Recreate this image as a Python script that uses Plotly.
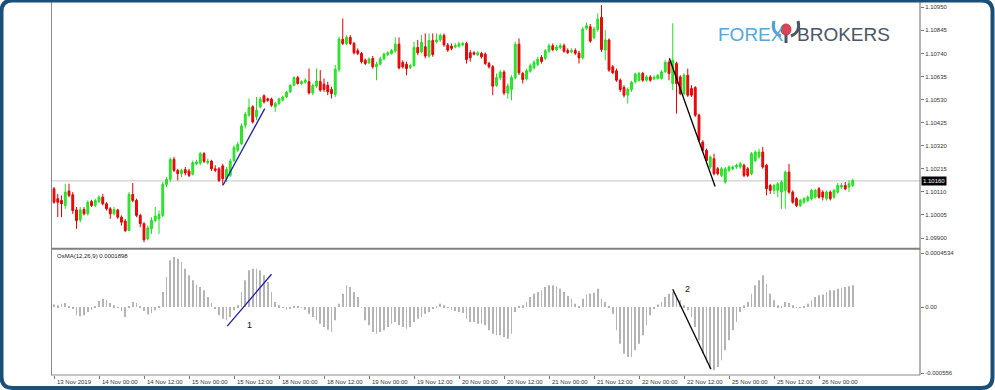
import plotly.graph_objects as go

# ---------------- DATA ----------------
open_ = [1.10124,1.10079,1.10071,1.10048,1.10114,1.10097,1.10028,1.09983,1.10030,1.10010,
1.10066,1.10048,1.10066,1.10086,1.10056,1.10033,1.10010,1.10028,1.09995,1.09977,
1.09934,1.10098,1.10071,1.10003,1.09965,1.09896,1.09942,1.09980,1.09987,1.10003,
1.10144,1.10167,1.10258,1.10208,1.10193,1.10211,1.10205,1.10190,1.10238,1.10241,
1.10284,1.10243,1.10250,1.10215,1.10215,1.10228,1.10170,1.10185,1.10253,1.10299,
1.10329,1.10413,1.10459,1.10497,1.10451,1.10497,1.10547,1.10533,1.10532,1.10497,
1.10512,1.10527,1.10542,1.10565,1.10595,1.10630,1.10603,1.10609,1.10611,1.10560,
1.10591,1.10612,1.10600,1.10595,1.10576,1.10553,1.10667,1.10804,1.10785,1.10813,
1.10785,1.10752,1.10740,1.10709,1.10697,1.10717,1.10679,1.10691,1.10715,1.10734,
1.10740,1.10750,1.10782,1.10699,1.10691,1.10676,1.10685,1.10767,1.10747,1.10770,
1.10728,1.10799,1.10793,1.10801,1.10822,1.10778,1.10772,1.10769,1.10773,1.10779,
1.10785,1.10743,1.10743,1.10734,1.10740,1.10737,1.10694,1.10679,1.10595,1.10629,
1.10655,1.10560,1.10576,1.10629,1.10782,1.10649,1.10624,1.10659,1.10674,1.10690,
1.10722,1.10717,1.10750,1.10775,1.10757,1.10766,1.10775,1.10753,1.10747,1.10753,
1.10741,1.10720,1.10854,1.10861,1.10811,1.10849,1.10904,1.10755,1.10801,1.10679,
1.10661,1.10618,1.10585,1.10550,1.10576,1.10611,1.10618,1.10649,1.10618,1.10633,
1.10624,1.10626,1.10626,1.10656,1.10700,1.10603,1.10694,1.10633,1.10557,1.10641,
1.10580,1.10585,1.10459,1.10337,1.10299,1.10223,1.10261,1.10215,1.10185,1.10155,
1.10208,1.10215,1.10223,1.10223,1.10231,1.10215,1.10193,1.10253,1.10269,1.10291,
1.10231,1.10139,1.10117,1.10117,1.10109,1.10117,1.10200,1.10109,1.10079,1.10048,
1.10063,1.10071,1.10079,1.10086,1.10124,1.10109,1.10079,1.10109,1.10086,1.10109,
1.10132,1.10139,1.10132,1.10139]

high = [1.10132,1.10101,1.10094,1.10147,1.10147,1.10109,1.10041,1.10041,1.10041,1.10071,
1.10074,1.10079,1.10094,1.10101,1.10063,1.10041,1.10041,1.10033,1.10003,1.09987,
1.10109,1.10150,1.10079,1.10010,1.09972,1.09957,1.09995,1.10041,1.10025,1.10155,
1.10177,1.10266,1.10269,1.10215,1.10215,1.10223,1.10215,1.10253,1.10256,1.10291,
1.10291,1.10261,1.10256,1.10231,1.10223,1.10238,1.10223,1.10261,1.10322,1.10337,
1.10421,1.10474,1.10535,1.10504,1.10542,1.10542,1.10554,1.10539,1.10539,1.10519,
1.10539,1.10548,1.10570,1.10600,1.10636,1.10638,1.10618,1.10626,1.10671,1.10603,
1.10671,1.10664,1.10626,1.10611,1.10588,1.10687,1.10816,1.10899,1.10823,1.10823,
1.10793,1.10763,1.10747,1.10717,1.10722,1.10728,1.10702,1.10725,1.10744,1.10750,
1.10760,1.10813,1.10813,1.10709,1.10702,1.10694,1.10793,1.10801,1.10823,1.10831,
1.10831,1.10831,1.10831,1.10831,1.10831,1.10788,1.10785,1.10788,1.10793,1.10793,
1.10793,1.10755,1.10750,1.10750,1.10747,1.10744,1.10702,1.10687,1.10649,1.10664,
1.10664,1.10603,1.10641,1.10793,1.10808,1.10656,1.10671,1.10694,1.10709,1.10725,
1.10732,1.10760,1.10785,1.10785,1.10778,1.10785,1.10785,1.10763,1.10763,1.10763,
1.10752,1.10861,1.10880,1.10874,1.10861,1.10922,1.10960,1.10846,1.10808,1.10687,
1.10671,1.10626,1.10595,1.10585,1.10615,1.10652,1.10656,1.10656,1.10641,1.10641,
1.10640,1.10646,1.10664,1.10709,1.10709,1.10877,1.10702,1.10641,1.10649,1.10671,
1.10595,1.10591,1.10466,1.10345,1.10307,1.10276,1.10284,1.10223,1.10223,1.10223,
1.10231,1.10231,1.10238,1.10246,1.10238,1.10223,1.10291,1.10299,1.10307,1.10314,
1.10238,1.10147,1.10147,1.10155,1.10162,1.10208,1.10238,1.10117,1.10086,1.10079,
1.10086,1.10094,1.10124,1.10124,1.10132,1.10117,1.10117,1.10117,1.10124,1.10150,
1.10150,1.10155,1.10162,1.10170]

low = [1.10056,1.09995,1.09995,1.10033,1.10086,1.10010,1.09942,1.09972,1.10003,1.10003,
1.10041,1.10041,1.10059,1.10048,1.10025,1.09987,1.10003,1.09987,1.09957,1.09927,
1.09931,1.10063,1.09995,1.09949,1.09881,1.09889,1.09919,1.09972,1.09919,1.09995,
1.10132,1.10155,1.10200,1.10162,1.10177,1.10185,1.10177,1.10185,1.10231,1.10231,
1.10241,1.10235,1.10205,1.10200,1.10155,1.10139,1.10155,1.10177,1.10246,1.10291,
1.10322,1.10398,1.10451,1.10421,1.10436,1.10489,1.10512,1.10519,1.10497,1.10474,
1.10504,1.10522,1.10538,1.10560,1.10591,1.10598,1.10595,1.10603,1.10553,1.10550,
1.10583,1.10565,1.10565,1.10550,1.10535,1.10542,1.10656,1.10778,1.10778,1.10778,
1.10735,1.10732,1.10694,1.10687,1.10691,1.10671,1.10618,1.10685,1.10709,1.10728,
1.10735,1.10743,1.10667,1.10671,1.10641,1.10668,1.10679,1.10732,1.10740,1.10717,
1.10720,1.10725,1.10785,1.10793,1.10770,1.10747,1.10755,1.10763,1.10766,1.10773,
1.10694,1.10702,1.10731,1.10728,1.10717,1.10687,1.10671,1.10550,1.10588,1.10618,
1.10550,1.10535,1.10527,1.10621,1.10641,1.10603,1.10618,1.10652,1.10667,1.10682,
1.10694,1.10709,1.10743,1.10750,1.10750,1.10758,1.10743,1.10737,1.10740,1.10732,
1.10694,1.10712,1.10846,1.10788,1.10804,1.10839,1.10747,1.10709,1.10656,1.10646,
1.10611,1.10565,1.10539,1.10512,1.10565,1.10603,1.10611,1.10611,1.10611,1.10611,
1.10618,1.10621,1.10621,1.10652,1.10618,1.10573,1.10466,1.10550,1.10550,1.10542,
1.10542,1.10451,1.10337,1.10291,1.10238,1.10215,1.10185,1.10185,1.10177,1.10147,
1.10200,1.10208,1.10215,1.10215,1.10177,1.10177,1.10185,1.10246,1.10261,1.10215,
1.10094,1.10101,1.10101,1.10086,1.10033,1.10033,1.10101,1.10056,1.10041,1.10041,
1.10056,1.10063,1.10071,1.10079,1.10079,1.10071,1.10071,1.10071,1.10079,1.10101,
1.10124,1.10117,1.10109,1.10132]

close = [1.10063,1.10063,1.10056,1.10109,1.10094,1.10025,1.09980,1.10028,1.10010,1.10063,
1.10048,1.10071,1.10086,1.10056,1.10033,1.10010,1.10030,1.09995,1.09972,1.09934,
1.10098,1.10071,1.10003,1.09965,1.09892,1.09946,1.09980,1.10000,1.10007,1.10144,
1.10167,1.10258,1.10208,1.10193,1.10208,1.10196,1.10185,1.10243,1.10246,1.10284,
1.10249,1.10250,1.10215,1.10208,1.10162,1.10170,1.10212,1.10250,1.10311,1.10326,
1.10410,1.10463,1.10494,1.10428,1.10481,1.10532,1.10519,1.10527,1.10504,1.10512,
1.10533,1.10542,1.10563,1.10594,1.10630,1.10603,1.10611,1.10618,1.10560,1.10594,
1.10615,1.10573,1.10576,1.10565,1.10557,1.10668,1.10805,1.10785,1.10813,1.10785,
1.10743,1.10740,1.10702,1.10694,1.10714,1.10679,1.10691,1.10715,1.10737,1.10743,
1.10753,1.10782,1.10674,1.10679,1.10671,1.10685,1.10767,1.10743,1.10790,1.10728,
1.10799,1.10735,1.10801,1.10822,1.10779,1.10755,1.10763,1.10776,1.10784,1.10785,
1.10712,1.10720,1.10737,1.10743,1.10725,1.10694,1.10679,1.10591,1.10630,1.10655,
1.10560,1.10592,1.10630,1.10782,1.10652,1.10621,1.10661,1.10684,1.10699,1.10714,
1.10703,1.10752,1.10775,1.10757,1.10769,1.10776,1.10750,1.10744,1.10753,1.10741,
1.10720,1.10851,1.10866,1.10796,1.10851,1.10896,1.10758,1.10801,1.10664,1.10652,
1.10618,1.10576,1.10550,1.10577,1.10608,1.10646,1.10649,1.10618,1.10633,1.10618,
1.10632,1.10640,1.10656,1.10700,1.10649,1.10709,1.10603,1.10557,1.10641,1.10550,
1.10550,1.10459,1.10345,1.10299,1.10253,1.10269,1.10193,1.10193,1.10215,1.10215,
1.10223,1.10223,1.10231,1.10238,1.10185,1.10185,1.10284,1.10291,1.10291,1.10223,
1.10124,1.10117,1.10139,1.10147,1.10155,1.10200,1.10109,1.10063,1.10048,1.10071,
1.10079,1.10086,1.10117,1.10117,1.10086,1.10086,1.10109,1.10079,1.10117,1.10139,
1.10139,1.10124,1.10147,1.10162]

osma = [0.000022,0.000014,0.000028,0.000034,0.000008,-0.000014,-0.000070,-0.000078,-0.000070,-0.000042,
-0.000022,0.000008,0.000050,0.000070,0.000062,0.000034,0.000014,-0.000008,-0.000034,-0.000084,
0.000003,0.000042,0.000034,0.000008,-0.000034,-0.000062,-0.000050,-0.000028,0.000008,0.000126,
0.000252,0.000392,0.000420,0.000406,0.000378,0.000322,0.000266,0.000224,0.000190,0.000168,
0.000140,0.000084,0.000034,-0.000014,-0.000070,-0.000098,-0.000112,-0.000084,-0.000028,0.000014,
0.000126,0.000224,0.000308,0.000322,0.000322,0.000308,0.000266,0.000210,0.000126,0.000042,
0.000014,-0.000008,-0.000022,-0.000014,0.000008,0.000006,-0.000006,-0.000022,-0.000056,-0.000084,
-0.000112,-0.000140,-0.000168,-0.000190,-0.000210,-0.000112,0.000028,0.000112,0.000182,0.000168,
0.000126,0.000084,-0.000003,-0.000112,-0.000154,-0.000210,-0.000224,-0.000210,-0.000196,-0.000168,
-0.000140,-0.000126,-0.000154,-0.000168,-0.000182,-0.000168,-0.000126,-0.000098,-0.000084,-0.000056,
-0.000042,-0.000014,0.000008,0.000028,0.000014,-0.000006,-0.000022,-0.000034,-0.000042,-0.000050,
-0.000098,-0.000126,-0.000126,-0.000140,-0.000140,-0.000154,-0.000196,-0.000224,-0.000238,-0.000238,
-0.000252,-0.000266,-0.000224,-0.000042,0.000003,0.000014,0.000042,0.000084,0.000112,0.000126,
0.000140,0.000168,0.000182,0.000182,0.000174,0.000154,0.000126,0.000092,0.000070,0.000028,
0.000008,0.000070,0.000106,0.000112,0.000120,0.000154,0.000070,0.000042,0.000006,-0.000056,
-0.000196,-0.000308,-0.000392,-0.000420,-0.000420,-0.000364,-0.000308,-0.000238,-0.000154,-0.000070,
-0.000014,0.000022,0.000042,0.000084,0.000112,0.000126,0.000098,0.000056,0.000014,-0.000028,
-0.000084,-0.000168,-0.000280,-0.000392,-0.000462,-0.000518,-0.000532,-0.000504,-0.000448,-0.000364,
-0.000280,-0.000196,-0.000126,-0.000042,0.000014,0.000042,0.000112,0.000182,0.000224,0.000266,
0.000196,0.000112,0.000056,0.000014,0.000008,0.000042,0.000034,0.000014,-0.000006,-0.000008,
0.000008,0.000028,0.000056,0.000084,0.000098,0.000106,0.000126,0.000140,0.000140,0.000154,
0.000162,0.000168,0.000174,0.000182]

tick_bars = [0, 12, 24, 36, 48, 60, 72, 84, 96, 108, 120, 132, 144, 156, 168, 180, 192, 204]
tick_labels = ["13 Nov 2019", "14 Nov 00:00", "14 Nov 12:00", "15 Nov 00:00", "15 Nov 12:00",
               "18 Nov 00:00", "18 Nov 12:00", "19 Nov 00:00", "19 Nov 12:00", "20 Nov 00:00",
               "20 Nov 12:00", "21 Nov 00:00", "21 Nov 12:00", "22 Nov 00:00", "22 Nov 12:00",
               "25 Nov 00:00", "25 Nov 12:00", "26 Nov 00:00"]
price_ticks = [1.09900, 1.10005, 1.10110, 1.10215, 1.10320, 1.10425, 1.10530, 1.10635, 1.10740, 1.10845, 1.10950]
osma_ticks = [0.0004534, 0.0, -0.0005563]
osma_tick_labels = ["0.0004534", "0.00", "-0.000556"]
current_price = 1.10160
osma_title = "OsMA(12,26,9) 0.0001898"

# trendline drawings (bar index, value)
line1_price_x = [45.1, 56.2]; line1_price_y = [1.10141, 1.10489]
line1_osma_x = [46.2, 58.0]; line1_osma_y = [-0.000160, 0.000275]
line2_price_x = [164.1, 176.3]; line2_price_y = [1.10718, 1.10134]
line2_osma_x = [165.0, 175.2]; line2_osma_y = [0.000149, -0.000523]
label1 = (52.0, -0.000151, "1")
label2 = (169.0, 0.000150, "2")

bars = list(range(len(close)))

# ---------------- LAYOUT GEOMETRY ----------------
W, H = 995, 390
ML, MR, MT, MB = 51, 75, 0, 15
PW, PH = W - ML - MR, H - MT - MB

def X(px):
    return (px - ML) / PW

def Y(py):
    return 1 - (py - MT) / PH

FONT = "Liberation Sans, Arial, sans-serif"

fig = go.Figure()

fig.add_trace(go.Candlestick(
    x=bars, open=open_, high=high, low=low, close=close,
    xaxis="x", yaxis="y", whiskerwidth=0,
    increasing=dict(line=dict(color="#22dd22", width=1), fillcolor="#33ee33"),
    decreasing=dict(line=dict(color="#e00000", width=1), fillcolor="#ee1010"),
    showlegend=False, hoverinfo="skip"))

fig.add_trace(go.Bar(
    x=bars, y=osma, xaxis="x", yaxis="y2", width=0.22,
    marker=dict(color="#b4b4b4", line=dict(width=0)),
    showlegend=False, hoverinfo="skip"))

fig.add_trace(go.Scatter(x=line1_price_x, y=line1_price_y, xaxis="x", yaxis="y", mode="lines",
                         line=dict(color="#1c1ca8", width=1.3), showlegend=False, hoverinfo="skip"))
fig.add_trace(go.Scatter(x=line1_osma_x, y=line1_osma_y, xaxis="x", yaxis="y2", mode="lines",
                         line=dict(color="#1c1ca8", width=1.3), showlegend=False, hoverinfo="skip"))
fig.add_trace(go.Scatter(x=line2_price_x, y=line2_price_y, xaxis="x", yaxis="y", mode="lines",
                         line=dict(color="#000000", width=1.3), showlegend=False, hoverinfo="skip"))
fig.add_trace(go.Scatter(x=line2_osma_x, y=line2_osma_y, xaxis="x", yaxis="y2", mode="lines",
                         line=dict(color="#000000", width=1.3), showlegend=False, hoverinfo="skip"))

top_dom = [Y(248), 1]
bot_dom = [0, Y(250)]

fig.update_layout(
    width=W, height=H,
    margin=dict(l=ML, r=MR, t=MT, b=MB, pad=0),
    paper_bgcolor="white", plot_bgcolor="white",
    font=dict(family=FONT, size=6, color="#333333"),
    xaxis=dict(domain=[0, 1], anchor="y2", range=[(ML - 54) / 3.75, (ML + PW - 54) / 3.75],
               tickmode="array", tickvals=tick_bars, ticktext=tick_labels,
               ticks="outside", ticklen=3, tickcolor="#777777", tickwidth=1,
               showticklabels=False,
               showgrid=False, zeroline=False, showline=False,
               rangeslider=dict(visible=False), fixedrange=True),
    yaxis=dict(domain=top_dom, anchor="x", side="right",
               range=[1.10983 - 248 * 0.0000455, 1.10983],
               tickmode="array", tickvals=price_ticks, ticktext=[f"{v:.5f}" for v in price_ticks],
               ticks="outside", ticklen=3, tickcolor="#777777",
               tickfont=dict(size=6, color="#333333"),
               showgrid=False, zeroline=False, showline=False, fixedrange=True),
    yaxis2=dict(domain=bot_dom, anchor="x", side="right",
                range=[-0.000571, 0.000479],
                tickmode="array", tickvals=osma_ticks, ticktext=osma_tick_labels,
                ticks="outside", ticklen=3, tickcolor="#777777",
                tickfont=dict(size=6, color="#333333"),
                showgrid=False, zeroline=False, showline=False, fixedrange=True),
    showlegend=False,
)

shapes = []
shapes.append(dict(type="line", xref="paper", yref="y", x0=0, x1=1, y0=current_price, y1=current_price,
                   line=dict(color="#c4c4c4", width=1), layer="below"))
shapes.append(dict(type="line", xref="paper", yref="paper", x0=X(51.5), x1=X(51.5), y0=0, y1=1,
                   line=dict(color="#8a8a8a", width=1)))
shapes.append(dict(type="line", xref="paper", yref="paper", x0=1, x1=1, y0=0, y1=1,
                   line=dict(color="#6a6a6a", width=1)))
shapes.append(dict(type="line", xref="paper", yref="paper", x0=X(51), x1=1, y0=Y(248.8), y1=Y(248.8),
                   line=dict(color="#808080", width=2)))
shapes.append(dict(type="line", xref="paper", yref="paper", x0=X(51), x1=1, y0=0, y1=0,
                   line=dict(color="#8a8a8a", width=1)))

def P(px, py):
    return f"{X(px):.5f},{Y(py):.5f}"

shapes.append(dict(type="path", xref="paper", yref="paper",
                   path=f"M{P(781,36)} Q{P(771,32)} {P(774,21)}",
                   line=dict(color="#4d9fd3", width=3)))
shapes.append(dict(type="path", xref="paper", yref="paper",
                   path=f"M{P(791,36)} Q{P(801,32)} {P(798,21)}",
                   line=dict(color="#4a5566", width=3)))
shapes.append(dict(type="path", xref="paper", yref="paper",
                   path=f"M{P(786,33)} L{P(786,43)}",
                   line=dict(color="#4a5566", width=3)))
shapes.append(dict(type="circle", xref="paper", yref="paper",
                   x0=X(781), x1=X(791), y0=Y(35), y1=Y(24),
                   fillcolor="#e0405a", line=dict(color="#c83048", width=1)))

l, t, r, b, rad = 1.5, 0.5, 992.5, 388.0, 11
frame = (f"M{P(l+rad,t)} L{P(r-rad,t)} Q{P(r,t)} {P(r,t+rad)} L{P(r,b-rad)} "
         f"Q{P(r,b)} {P(r-rad,b)} L{P(l+rad,b)} Q{P(l,b)} {P(l,b-rad)} L{P(l,t+rad)} "
         f"Q{P(l,t)} {P(l+rad,t)} Z")
shapes.append(dict(type="path", xref="paper", yref="paper", path=frame,
                   line=dict(color="#1a4f7a", width=4), layer="above"))

fig.update_layout(shapes=shapes)

ann = []
for tb, tl in zip(tick_bars, tick_labels):
    ann.append(dict(xref="x", yref="paper", x=tb, y=Y(381.5), text=tl, showarrow=False,
                    xanchor="left", yanchor="middle", xshift=0.5,
                    font=dict(size=6, color="#333333", family=FONT)))
ann.append(dict(xref="paper", yref="y", x=1, y=current_price, text=f"{current_price:.5f}",
                showarrow=False, xanchor="left", yanchor="middle", xshift=1,
                bgcolor="#000000", borderpad=1, font=dict(size=6, color="white", family=FONT)))
ann.append(dict(xref="paper", yref="paper", x=X(55), y=Y(255.5), text=osma_title, showarrow=False,
                xanchor="left", yanchor="middle", font=dict(size=6, color="#222222", family=FONT)))
ann.append(dict(xref="x", yref="y2", x=label1[0], y=label1[1], text=label1[2], showarrow=False,
                font=dict(size=9, color="#111111", family=FONT)))
ann.append(dict(xref="x", yref="y2", x=label2[0], y=label2[1], text=label2[2], showarrow=False,
                font=dict(size=9, color="#111111", family=FONT)))
ann.append(dict(xref="paper", yref="paper", x=X(716), y=Y(34), text="FOREX", showarrow=False,
                xanchor="left", yanchor="middle",
                font=dict(size=19, color="#5aa6d6", family=FONT)))
ann.append(dict(xref="paper", yref="paper", x=X(795), y=Y(34), text="BROKERS", showarrow=False,
                xanchor="left", yanchor="middle",
                font=dict(size=19, color="#4a5566", family=FONT)))
fig.update_layout(annotations=ann)

fig.write_html("out.html")
